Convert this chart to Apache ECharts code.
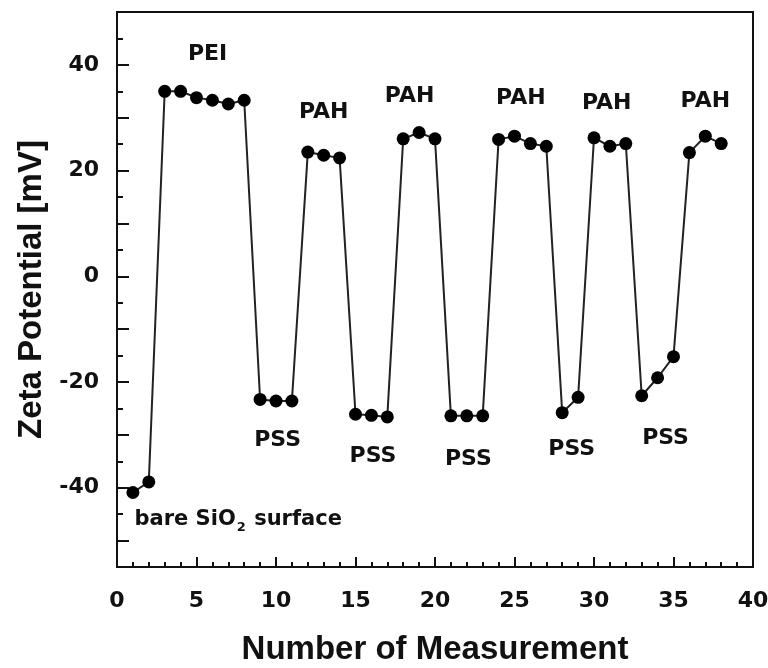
<!DOCTYPE html>
<html>
<head>
<meta charset="utf-8">
<script src="https://cdn.jsdelivr.net/npm/echarts@6/dist/echarts.min.js"></script>
<style>
  html, body { margin: 0; padding: 0; background: #fff; }
  #chart { width: 768px; height: 668px; }
</style>
</head>
<body>
<div id="chart"></div>
<script>
// Measurement index and zeta potential (mV) after each deposition step
const measurement = [1, 2, 3, 4, 5, 6, 7, 8, 9, 10, 11, 12, 13, 14, 15, 16, 17, 18, 19,
  20, 21, 22, 23, 24, 25, 26, 27, 28, 29, 30, 31, 32, 33, 34, 35, 36, 37, 38];
const zeta = [-40.9, -38.9, 35.0, 35.0, 33.8, 33.3, 32.6, 33.3, -23.3, -23.6, -23.6,
  23.5, 22.9, 22.4, -26.1, -26.3, -26.6, 26.0, 27.2, 26.0, -26.4, -26.4, -26.4,
  25.9, 26.5, 25.1, 24.6, -25.8, -22.9, 26.2, 24.6, 25.1, -22.6, -19.2, -15.2,
  23.4, 26.5, 25.1];

// Layer annotations: text and anchor in data coordinates
const noteText = ['PEI', 'PAH', 'PAH', 'PAH', 'PAH', 'PAH', 'PSS', 'PSS', 'PSS', 'PSS', 'PSS'];
const noteX = [5.7, 13.0, 18.4, 25.4, 30.8, 37.0, 10.1, 16.1, 22.1, 28.6, 34.5];
const noteY = [42.0, 31.1, 34.0, 33.6, 32.8, 33.1, -31.1, -34.0, -34.6, -32.8, -30.7];
const surfaceNote = { x: 1.1, y: -46.0 };

// Axis ticks
const xTicks = [0, 5, 10, 15, 20, 25, 30, 35, 40];
const yLabels = [-40, -20, 0, 20, 40];
const yMajorTicks = [-50, -40, -30, -20, -10, 0, 10, 20, 30, 40, 50];
const yMinorTicks = [-55, -45, -35, -25, -15, -5, 5, 15, 25, 35, 45];

const TITLE_FONT = '"Liberation Sans", Arial, Helvetica, sans-serif';
const TEXT_FONT = '"DejaVu Sans", "Liberation Sans", sans-serif';
const INK = '#111';

const chart = echarts.init(document.getElementById('chart'), null, { renderer: 'canvas' });

const points = measurement.map((m, i) => [m, zeta[i]]);
const notes = noteText.map((t, i) => ({ value: [noteX[i], noteY[i]], name: t }));

const yBase = {
  type: 'value',
  min: -55,
  max: 50,
  position: 'left',
  splitLine: { show: false }
};

chart.setOption({
  animation: false,
  backgroundColor: '#fff',
  grid: {
    left: 117, right: 15, top: 12, bottom: 101,
    outerBoundsMode: 'none',
    containLabel: false,
    show: true, borderColor: INK, borderWidth: 2
  },
  xAxis: {
    type: 'value',
    min: xTicks[0],
    max: xTicks[xTicks.length - 1],
    interval: 5,
    name: 'Number of Measurement',
    nameLocation: 'middle',
    nameGap: 66,
    nameTextStyle: { fontFamily: TITLE_FONT, fontWeight: 'bold', fontSize: 33, color: INK },
    axisLine: { onZero: false, lineStyle: { color: INK, width: 2 } },
    axisTick: { inside: true, length: 10, lineStyle: { color: INK, width: 2 } },
    minorTick: { show: true, splitNumber: 5, length: 5, lineStyle: { color: INK, width: 2 } },
    splitLine: { show: false },
    minorSplitLine: { show: false },
    axisLabel: { margin: 23, fontFamily: TEXT_FONT, fontWeight: 'bold', fontSize: 22, color: INK }
  },
  yAxis: [
    Object.assign({}, yBase, {
      name: 'Zeta Potential [mV]',
      nameLocation: 'middle',
      nameGap: 64,
      nameTextStyle: { fontFamily: TITLE_FONT, fontWeight: 'bold', fontSize: 33, color: INK },
      axisLine: { onZero: false, lineStyle: { color: INK, width: 2 } },
      axisTick: { inside: true, length: 12, customValues: yMajorTicks, lineStyle: { color: INK, width: 2 } },
      axisLabel: { customValues: yLabels, margin: 18, fontFamily: TEXT_FONT, fontWeight: 'bold', fontSize: 22, color: INK }
    }),
    Object.assign({}, yBase, {
      axisLine: { show: false, onZero: false },
      axisTick: { inside: true, length: 6, customValues: yMinorTicks, lineStyle: { color: INK, width: 2 } },
      axisLabel: { show: false }
    })
  ],
  series: [
    {
      type: 'line',
      data: points,
      yAxisIndex: 0,
      symbol: 'circle',
      symbolSize: 13,
      lineStyle: { color: '#222', width: 2 },
      itemStyle: { color: '#000' },
      z: 3
    },
    {
      type: 'scatter',
      data: notes,
      symbolSize: 0,
      silent: true,
      itemStyle: { opacity: 1 },
      label: {
        show: true,
        position: 'inside',
        formatter: p => p.name,
        fontFamily: TEXT_FONT, fontWeight: 'bold', fontSize: 22, color: INK
      },
      z: 4
    },
    {
      type: 'scatter',
      data: [{ value: [surfaceNote.x, surfaceNote.y] }],
      symbolSize: 0,
      silent: true,
      itemStyle: { opacity: 1 },
      label: {
        show: true,
        position: 'right',
        distance: 0,
        formatter: '{n|bare SiO}{s|2}{n| surface}',
        rich: {
          n: { fontFamily: TEXT_FONT, fontWeight: 'bold', fontSize: 21, color: INK },
          s: { fontFamily: TEXT_FONT, fontWeight: 'bold', fontSize: 13, color: INK, padding: [16, 1, 0, 1] }
        }
      },
      z: 4
    }
  ]
});
</script>
</body>
</html>
